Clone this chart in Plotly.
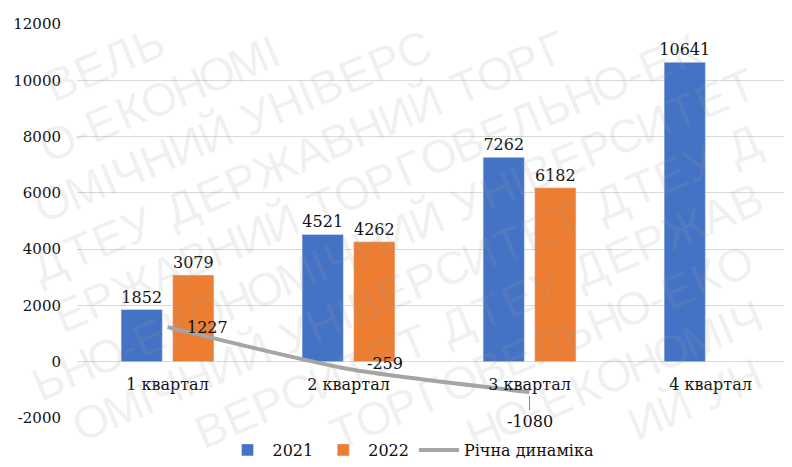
import math
import plotly.graph_objects as go

categories = ["1 квартал", "2 квартал", "3 квартал", "4 квартал"]
values_2021 = [1852, 4521, 7262, 10641]
values_2022 = [3079, 4262, 6182, None]
dynamics = [1227, -259, -1080, None]
y_ticks = [-2000, 0, 2000, 4000, 6000, 8000, 10000, 12000]
watermark = "ДТЕУ ДЕРЖАВНИЙ ТОРГОВЕЛЬНО-ЕКОНОМІЧНИЙ УНІВЕРСИТЕТ "

BLUE = "#4472C4"
ORANGE = "#ED7D31"
GRAY = "#A5A5A5"
TXT = "#111111"
SERIF = "DejaVu Serif"
FS = 16

OFF = 8  # page body margin
W, H = 792 - OFF, 467 - OFF
L, R, T, B = 77 - OFF, 0, 24 - OFF, 467 - 418
pw, ph = W - L - R, H - T - B

fig = go.Figure()
fig.add_trace(go.Bar(
    name="2021", x=categories, y=values_2021, marker_color=BLUE,
    text=[str(v) for v in values_2021], textposition="outside",
    constraintext="none",
    textfont=dict(family=SERIF, size=FS, color=TXT), cliponaxis=False,
))
fig.add_trace(go.Bar(
    name="2022", x=categories, y=values_2022, marker_color=ORANGE,
    text=[("" if v is None else str(v)) for v in values_2022], textposition="outside",
    constraintext="none",
    textfont=dict(family=SERIF, size=FS, color=TXT), cliponaxis=False,
))
fig.add_trace(go.Scatter(
    name="Річна динаміка", x=categories, y=dynamics, mode="lines",
    line=dict(color=GRAY, width=4, shape="spline", smoothing=0.6),
    connectgaps=False,
))

annotations = []

# watermark: diagonal rows of light letters (each letter kept inside the picture)
ang = 23
fs_wm = 46
ca, sa = math.cos(math.radians(ang)), math.sin(math.radians(ang))
def cw(ch):
    if ch == " ":
        return 0.30
    if ch == "-":
        return 0.36
    if ch == "І":
        return 0.30
    if ch in "ЖШЩ":
        return 0.92
    if ch in "МД":
        return 0.80
    return 0.68
spacing = 54
cx, cy = 396 - OFF, 233 - OFF
for k in range(-10, 11):
    ox = cx + k * spacing * sa
    oy = cy + k * spacing * ca
    pos = -1100.0 + (k * 137) % 400
    i = (k * 11) % len(watermark)
    while pos < 1100:
        ch = watermark[i % len(watermark)]
        w = cw(ch) * fs_wm
        c = pos + w / 2
        xp = ox + c * ca
        yp = oy - c * sa
        m = 0.78 * fs_wm
        if ch != " " and m < xp < W - m and m < yp < H - m:
            annotations.append(dict(
                x=(xp - L) / pw, y=(H - B - yp) / ph, xref="paper", yref="paper",
                text=ch, showarrow=False, textangle=-ang,
                font=dict(family="Liberation Sans", size=fs_wm,
                          color="rgba(160,160,160,0.16)"),
                xanchor="center", yanchor="middle",
            ))
        pos += w
        i += 1

# labels for the line series
label_cfg = [
    dict(xanchor="left", yanchor="middle", xshift=17, yshift=0, showarrow=False),
    dict(xanchor="left", yanchor="middle", xshift=16, yshift=6, showarrow=False),
    dict(xanchor="center", yanchor="middle", showarrow=True, ax=0, ay=29,
         arrowhead=0, arrowwidth=1, arrowcolor="#888888", standoff=4),
]
for cat, val, cfg in zip(categories, dynamics, label_cfg):
    if val is None:
        continue
    annotations.append(dict(x=cat, y=val, xref="x", yref="y", text=str(val),
                            font=dict(family=SERIF, size=FS, color=TXT), **cfg))

fig.update_layout(
    width=W, height=H,
    margin=dict(l=L, r=R, t=T, b=B, autoexpand=False),
    paper_bgcolor="white", plot_bgcolor="white",
    barmode="group", bargap=0.43, bargroupgap=0.2,
    font=dict(family=SERIF, size=FS, color=TXT),
    showlegend=True,
    legend=dict(orientation="h", x=(411 - 77) / pw, xanchor="center",
                y=-(450 - 418) / ph, yanchor="middle",
                font=dict(family=SERIF, size=FS, color=TXT),
                bgcolor="rgba(0,0,0,0)", itemwidth=40),
    annotations=annotations,
)
fig.update_yaxes(
    range=[-2000, 12000], tickvals=y_ticks, ticktext=[str(v) for v in y_ticks],
    showgrid=True, automargin=False,
    gridcolor="#D9D9D9", gridwidth=1, zeroline=True, zerolinecolor="#D9D9D9",
    zerolinewidth=1, showline=False, ticks="outside", ticklen=12,
    tickcolor="rgba(0,0,0,0)",
    tickfont=dict(family=SERIF, size=15, color=TXT),
)
fig.update_xaxes(
    range=[-0.5, 3.45], anchor="free", position=2000 / 14000, automargin=False,
    showgrid=False, showline=False, ticks="outside", ticklen=8,
    tickcolor="rgba(0,0,0,0)", zeroline=False,
    tickfont=dict(family=SERIF, size=FS, color=TXT),
)

fig.write_html("out.html")
